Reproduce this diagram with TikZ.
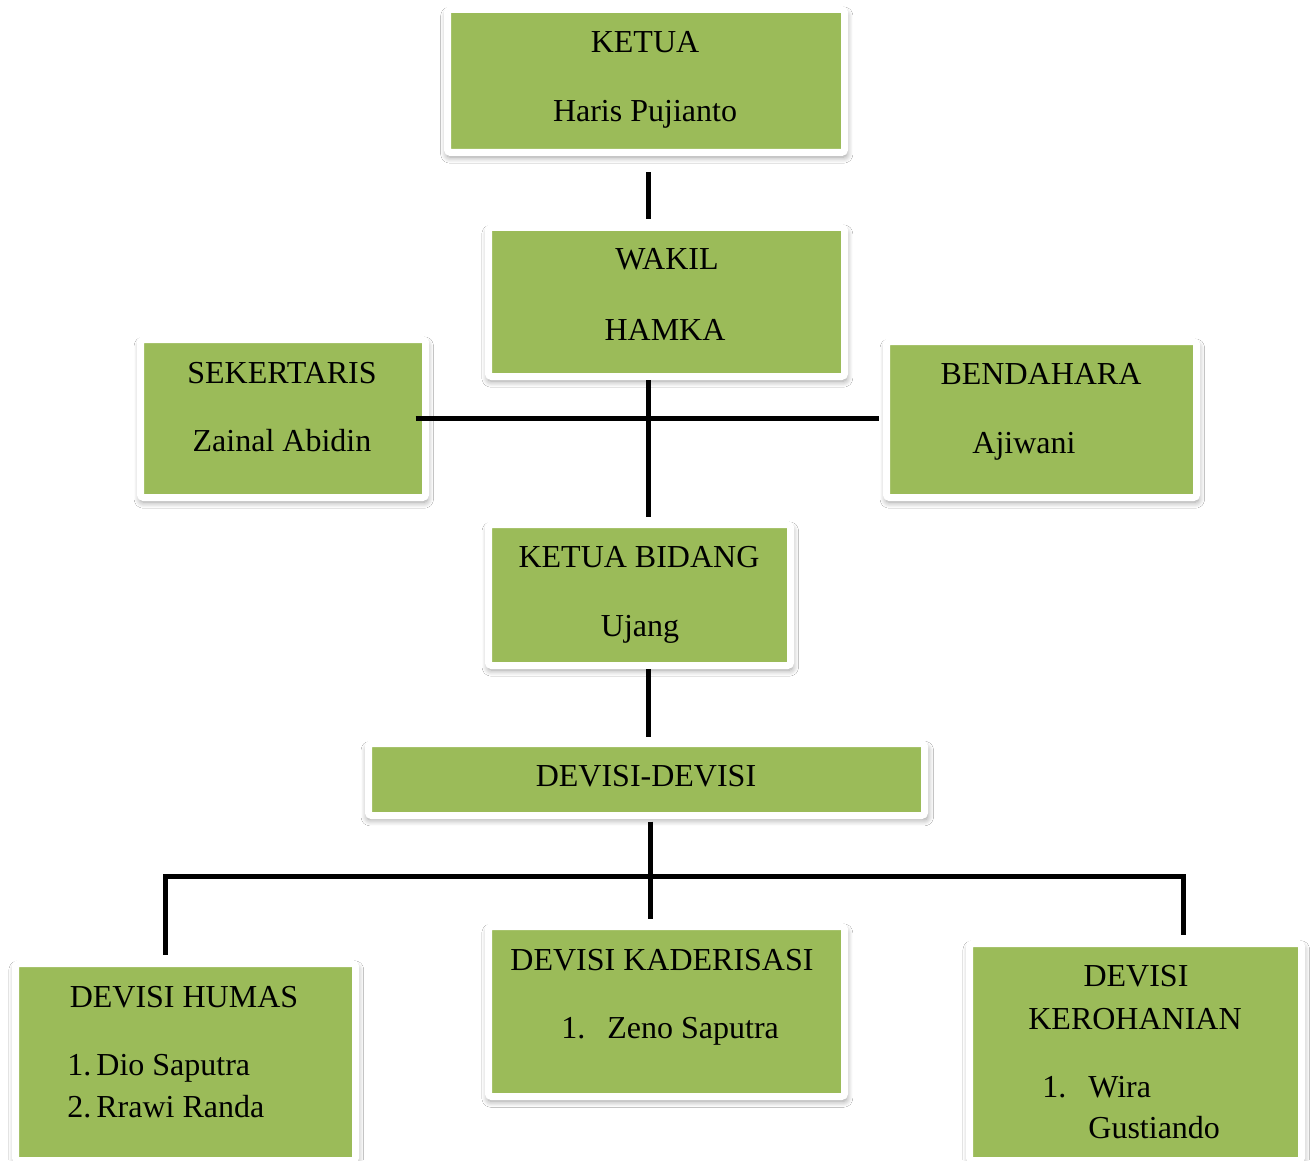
\documentclass[tikz,border=0pt]{standalone}
\usepackage{fontspec}
\setmainfont{Liberation Serif}
\usetikzlibrary{shadows.blur}
\definecolor{boxgreen}{HTML}{9BBB59}

\begin{document}
\begin{tikzpicture}[x=0.5pt,y=-0.5pt,
		orgbox/.style={fill=boxgreen,draw=white,line width=3.5pt,rounded corners=1.5pt,
			blur shadow={shadow xshift=0.4pt,shadow yshift=-2pt,shadow scale=1.008,shadow blur radius=3pt,shadow blur steps=8,shadow opacity=40}},
		txt/.style={font=\fontsize{16}{19}\selectfont,inner sep=0pt,anchor=base},
		item/.style={txt,anchor=base west},
		link/.style={line width=2.5pt,black}]
	\clip (0,0) rectangle (1315,1160);
	\fill[white] (0,0) rectangle (1315,1160);
	% kotak-kotak
	\node[orgbox,minimum width=198.5pt,minimum height=71.5pt] (ketua) at (646,81) {};
	\node[orgbox,minimum width=178pt,minimum height=74.5pt] (wakil) at (666.5,302) {};
	\node[orgbox,minimum width=142.5pt,minimum height=79pt] (sekre) at (283,418.5) {};
	\node[orgbox,minimum width=155pt,minimum height=78pt] (benda) at (1041.5,419.5) {};
	\node[orgbox,minimum width=151pt,minimum height=70.5pt] (kbidang) at (639.5,595) {};
	\node[orgbox,minimum width=278pt,minimum height=36pt] (devisi) at (646.5,779.5) {};
	\node[orgbox,minimum width=170pt,minimum height=98.5pt] (humas) at (185.5,1062) {};
	\node[orgbox,minimum width=178pt,minimum height=85pt] (kader) at (666.5,1011.5) {};
	\node[orgbox,minimum width=166pt,minimum height=108.5pt] (rohani) at (1135.5,1052) {};
	% tulisan
	\node[txt] (ketua-a) at (645,53) {KETUA};
	\node[txt] (ketua-b) at (645,122) {Haris Pujianto};
	\node[txt] (wakil-a) at (667,270) {WAKIL};
	\node[txt] (wakil-b) at (665,340) {HAMKA};
	\node[txt] (sekre-a) at (282,383) {SEKERTARIS};
	\node[txt] (sekre-b) at (282,451) {Zainal Abidin};
	\node[txt] (benda-a) at (1041,384) {BENDAHARA};
	\node[txt] (benda-b) at (1024,453) {Ajiwani};
	\node[txt] (kbidang-a) at (639,567) {KETUA BIDANG};
	\node[txt] (kbidang-b) at (640,636) {Ujang};
	\node[txt] (devisi-a) at (646,786) {DEVISI-DEVISI};
	\node[txt] (humas-a) at (184,1007) {DEVISI HUMAS};
	\node[item] (humas-n1) at (67,1075) {1.};
	\node[item] (humas-b) at (96,1075) {Dio Saputra};
	\node[item] (humas-n2) at (67,1117) {2.};
	\node[item] (humas-c) at (96,1117) {Rrawi Randa};
	\node[txt] (kader-a) at (662,970) {DEVISI KADERISASI};
	\node[item] (kader-n1) at (561,1038) {1.};
	\node[item] (kader-b) at (607,1038) {Zeno Saputra};
	\node[txt] (rohani-a) at (1136,986) {DEVISI};
	\node[txt] (rohani-b) at (1135,1029) {KEROHANIAN};
	\node[item] (rohani-n1) at (1042,1097) {1.};
	\node[item] (rohani-c) at (1088,1097) {Wira};
	\node[item] (rohani-d) at (1088,1138) {Gustiando};
	% garis
	\coordinate (spine) at (648,418);
	\coordinate (bus) at (650,876);
	\draw[link,shorten <=8.25pt,shorten >=2.25pt] (ketua.south -| spine) -- (wakil.north -| spine);
	\draw[link,shorten >=2.25pt] (wakil.south -| spine) -- (kbidang.north -| spine);
	\draw[link,shorten <=-6.75pt,shorten >=2pt] (sekre.east |- spine) -- (benda.west |- spine);
	\draw[link,shorten >=1.75pt] (kbidang.south -| spine) -- (devisi.north -| spine);
	\draw[link,shorten <=1.25pt,shorten >=2.25pt] (devisi.south -| bus) -- (kader.north -| bus);
	\draw[link,shorten <=2.75pt,shorten >=2.75pt] ([xshift=-10.25pt]humas.north) |- (bus) -| ([xshift=23.75pt]rohani.north);
\end{tikzpicture}
\end{document}
